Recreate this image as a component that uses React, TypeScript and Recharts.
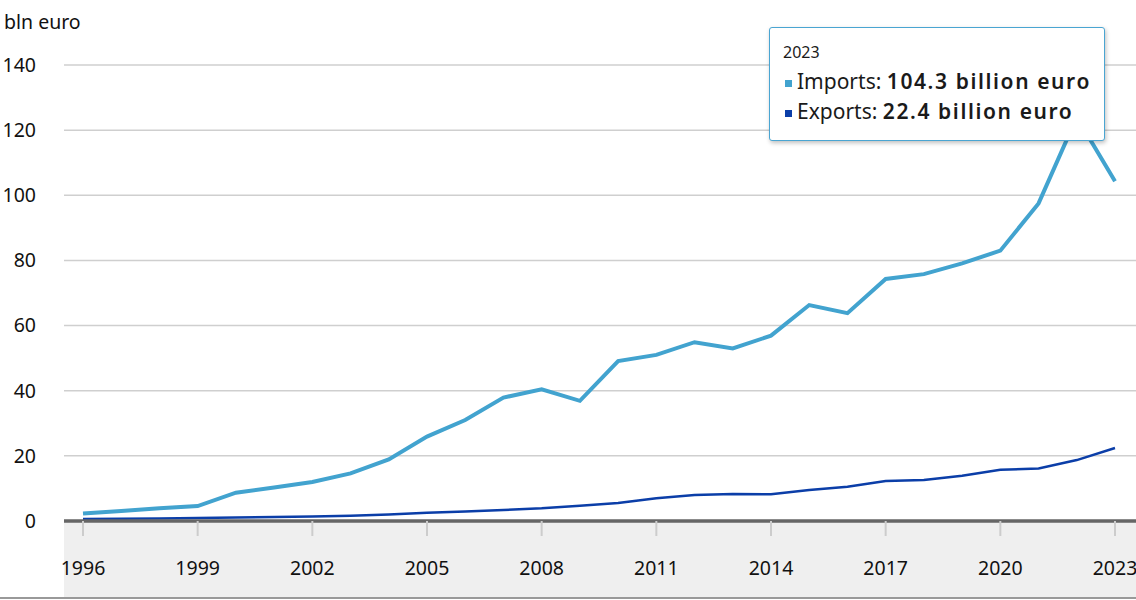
import React from "react"
import { LineChart, Line, XAxis, YAxis, CartesianGrid, Tooltip } from "recharts"

const years = [
  1996, 1997, 1998, 1999, 2000, 2001, 2002, 2003, 2004, 2005, 2006, 2007, 2008, 2009,
  2010, 2011, 2012, 2013, 2014, 2015, 2016, 2017, 2018, 2019, 2020, 2021, 2022, 2023,
]

// billion euro
const imports = [
  2.3, 3.1, 3.9, 4.6, 8.7, 10.3, 12.0, 14.6, 18.9, 25.9, 31.0, 37.9, 40.4, 36.9,
  49.1, 51.0, 54.9, 53.0, 56.9, 66.3, 63.8, 74.3, 75.8, 79.1, 83.0, 97.5, 124.0, 104.3,
]

const exports = [
  0.6, 0.7, 0.8, 0.9, 1.1, 1.2, 1.4, 1.6, 2.0, 2.5, 2.9, 3.4, 3.9, 4.7,
  5.5, 7.0, 8.0, 8.3, 8.2, 9.5, 10.5, 12.3, 12.6, 13.9, 15.7, 16.1, 18.7, 22.4,
]

const yTicks = [0, 20, 40, 60, 80, 100, 120, 140]

const data = years.map((year, i) => ({ year, imports: imports[i], exports: exports[i] }))

const font = '"Noto Sans", sans-serif'
const importsColor = "#42a3cf"
const exportsColor = "#0b3ea8"

function InfoBox({ active, payload, label }: any) {
  if (!active || !payload || !payload.length) return null
  return (
    <div
      style={{
        width: 336,
        height: 114,
        boxSizing: "border-box",
        background: "#fff",
        border: "1.5px solid #4aa5d2",
        borderRadius: 3,
        boxShadow: "1px 2px 4px rgba(0,0,0,0.25)",
        padding: "14px 0 0 13px",
        fontFamily: font,
        color: "#1a1a1a",
      }}
    >
      <div style={{ fontSize: 16, lineHeight: "20px" }}>{label}</div>
      <div style={{ height: 4 }} />
      {payload.map((p: any) => (
        <div key={p.dataKey} style={{ fontSize: 21, lineHeight: "30px", whiteSpace: "nowrap" }}>
          <span
            style={{
              display: "inline-block",
              width: 7,
              height: 7,
              background: p.color,
              marginRight: 5,
              marginLeft: 2,
              verticalAlign: "middle",
            }}
          />
          {p.name}: <span style={{ fontWeight: 600, letterSpacing: 1.6 }}>{p.value} billion euro</span>
        </div>
      ))}
    </div>
  )
}

export default function App() {
  return (
    <div style={{ position: "relative", width: 1136, height: 600, fontFamily: font }}>
      <style>{"body{margin:0}"}</style>
      <div style={{ position: "absolute", left: 64, top: 522, width: 1072, height: 76, background: "#efefef" }} />
      <div style={{ position: "absolute", left: 0, top: 597, width: 1136, height: 2, background: "#999" }} />
      <div style={{ position: "absolute", left: 4, top: 8, fontSize: 19.5, color: "#111" }}>bln euro</div>
      <div style={{ position: "absolute", left: 0, top: 0 }}>
        <LineChart width={1136} height={600} data={data} margin={{ top: 65, right: 0, left: 0, bottom: 0 }}>
          <CartesianGrid vertical={false} stroke="#cfcfcf" strokeWidth={1.5} />
          <XAxis
            dataKey="year"
            interval={2}
            height={79}
            padding={{ left: 19, right: 21 }}
            axisLine={{ stroke: "#666", strokeWidth: 3.5 }}
            tickLine={{ stroke: "#ccc", strokeWidth: 2 }}
            tickSize={15}
            tickMargin={25}
            tick={{ fill: "#111", fontSize: 19.5, fontFamily: font }}
          />
          <YAxis
            domain={[0, 140]}
            ticks={yTicks}
            width={64}
            axisLine={false}
            tickLine={false}
            tickSize={0}
            tickMargin={28}
            tick={{ fill: "#111", fontSize: 19.5, fontFamily: font }}
          />
          <Tooltip
            active
            defaultIndex={27}
            position={{ x: 769, y: 27 }}
            cursor={false}
            content={<InfoBox />}
            isAnimationActive={false}
          />
          <Line
            type="linear"
            dataKey="imports"
            name="Imports"
            stroke={importsColor}
            strokeWidth={4}
            dot={false}
            activeDot={false}
            isAnimationActive={false}
          />
          <Line
            type="linear"
            dataKey="exports"
            name="Exports"
            stroke={exportsColor}
            strokeWidth={2.5}
            dot={false}
            activeDot={false}
            isAnimationActive={false}
          />
        </LineChart>
      </div>
    </div>
  )
}
